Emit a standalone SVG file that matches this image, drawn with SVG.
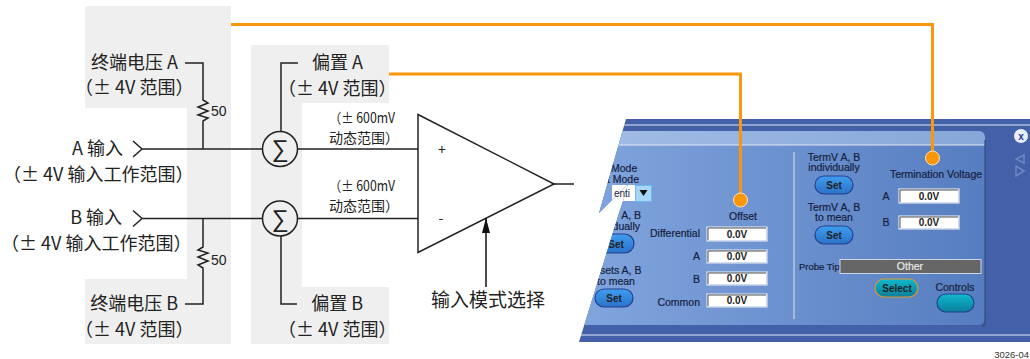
<svg xmlns="http://www.w3.org/2000/svg" width="1030" height="359" viewBox="0 0 1030 359">
<style>
text{font-family:"Noto Sans CJK SC","Liberation Sans",sans-serif;fill:#222}
.cn{font-size:18px}.cn2{font-size:14px}
.m{text-anchor:middle}.e{text-anchor:end}
.ui{font-family:"Liberation Sans",Arial,sans-serif;font-size:10.5px;fill:#16213f;stroke:#16213f;stroke-width:.2}
.w{fill:none;stroke:#222;stroke-width:1.5}
.o{fill:none;stroke:#f9960c;stroke-width:3}
.dot{fill:#f9960c;stroke:#fbe3b8;stroke-width:1}
.fld{fill:#fff;stroke:#c4d2e8;stroke-width:1.5}
.fi{fill:none;stroke:#555;stroke-width:1}
.v{font-family:"Liberation Sans",Arial,sans-serif;font-size:10px;font-weight:bold;fill:#222;text-anchor:middle}
.btn{fill:url(#bb);stroke:#24408f;stroke-width:1.2}
.tb{fill:url(#tb);stroke:#24408f;stroke-width:1.2}
</style>
<defs>
<linearGradient id="body" x1="0" x2="1" y1="0" y2="0"><stop offset="0" stop-color="#82a6de"/><stop offset="1" stop-color="#567dc0"/></linearGradient>
<linearGradient id="top" x1="0" x2="1" y1="0" y2="0"><stop offset="0" stop-color="#a3bde6"/><stop offset="1" stop-color="#87a7d8"/></linearGradient>
<linearGradient id="bb" x1="0" x2="0" y1="0" y2="1"><stop offset="0" stop-color="#3f9df0"/><stop offset="1" stop-color="#2a72c8"/></linearGradient>
<linearGradient id="tb" x1="0" x2="0" y1="0" y2="1"><stop offset="0" stop-color="#10b8cc"/><stop offset="1" stop-color="#0a7f9c"/></linearGradient>
<clipPath id="pc"><path d="M626 119H1030V342H579L619 213L624 198L628 184L599 213Z"/></clipPath>
<marker id="ah" viewBox="0 0 15 8" refX="15" refY="4" markerWidth="15" markerHeight="8" markerUnits="userSpaceOnUse" orient="auto"><path d="M0 0L15 4L0 8Z" fill="#111"/></marker>
</defs>
<g id="bg-term"><path d="M85 6H231V344H85V279H187V108H85Z" fill="#efefef"/></g>
<g id="bg-offset"><path d="M251 45H389V103H302V287H389V344H251Z" fill="#efefef"/></g>
<g id="panel">
<g clip-path="url(#pc)">
<rect x="570" y="119" width="460" height="223" fill="#4460a8"/>
<path d="M570 131H978Q985 131 985 138V318Q985 325 978 325H570Z" fill="url(#body)"/>
<path d="M570 131H978Q985 131 985 138V145H570Z" fill="url(#top)"/>
<path d="M570 125H1030M570 145H985M570 335H1030" stroke="#dfe8f6" stroke-width="1" fill="none"/>
<rect x="612" y="185" width="24" height="16" fill="#fff"/>
<rect x="594" y="234" width="40" height="19" rx="9.5" class="btn"/>
<text x="616" y="248" class="v">Set</text>
<text x="600" y="274" class="ui">sets A, B</text>
<text x="597" y="285" class="ui">to mean</text>
<text x="611" y="172" class="ui">Mode</text>
<text x="639" y="183" class="ui e">t Mode</text>
<text x="641" y="219" class="ui e">A, B</text>
<text x="640" y="230" class="ui e">dually</text>
</g>
<path d="M985 140V322Q985 325 982 327" stroke="#33497f" stroke-width="2" fill="none" opacity=".6"/>
<path d="M794 152V319" stroke="#dbe5f4" stroke-width="1"/>
<rect x="635.500" y="185.500" width="16" height="16" fill="#a9d6f7" stroke="#6ab8f0"/>
<path d="M639.500 190H647.500L643.500 196Z" fill="#111"/>
<text x="622" y="197" class="ui m" style="stroke:none;font-size:10px">enti</text>
<rect x="595" y="289" width="38" height="18" rx="9" class="btn"/>
<text x="614" y="302" class="v">Set</text>
<text x="743" y="220" class="ui m">Offset</text>
<text x="700" y="237" class="ui e">Differential</text>
<text x="700" y="260" class="ui e">A</text>
<text x="700" y="283" class="ui e">B</text>
<text x="700" y="306" class="ui e">Common</text>
<g id="offset-fields">
<rect x="707" y="227" width="60" height="14" class="fld"/><path d="M708 240V228H766" class="fi"/><text x="737" y="238" class="v">0.0V</text>
<rect x="707" y="250" width="60" height="13" class="fld"/><path d="M708 262V251H766" class="fi"/><text x="737" y="260" class="v">0.0V</text>
<rect x="707" y="272" width="60" height="13" class="fld"/><path d="M708 284V273H766" class="fi"/><text x="737" y="282" class="v">0.0V</text>
<rect x="707" y="294" width="60" height="13" class="fld"/><path d="M708 306V295H766" class="fi"/><text x="737" y="304" class="v">0.0V</text>
</g>
<text x="834" y="161" class="ui m">TermV A, B</text>
<text x="834" y="171" class="ui m">individually</text>
<rect x="815" y="176" width="38" height="18" rx="9" class="btn"/><text x="834" y="189" class="v">Set</text>
<text x="834" y="211" class="ui m">TermV A, B</text>
<text x="834" y="221" class="ui m">to mean</text>
<rect x="815" y="226" width="38" height="18" rx="9" class="btn"/><text x="834" y="239" class="v">Set</text>
<text x="936" y="178" class="ui m">Termination Voltage</text>
<text x="886" y="200" class="ui m">A</text>
<text x="886" y="226" class="ui m">B</text>
<rect x="899" y="189" width="60" height="14" class="fld"/><path d="M900 202V190H958" class="fi"/><text x="929" y="200" class="v">0.0V</text>
<rect x="899" y="216" width="60" height="13" class="fld"/><path d="M900 228V217H958" class="fi"/><text x="929" y="226" class="v">0.0V</text>
<text x="799" y="270" class="ui" style="font-size:9.500px">Probe Tip</text>
<rect x="840" y="259.500" width="141" height="14" fill="#666" stroke="#c9d4e6"/>
<text x="910" y="270" class="ui m" style="fill:#e8e8e8;stroke:#e8e8e8">Other</text>
<rect x="875" y="279" width="43" height="18" rx="9" class="tb" style="stroke:#e3962a"/>
<text x="897" y="292" class="v">Select</text>
<text x="955" y="291" class="ui m">Controls</text>
<rect x="937" y="294" width="37" height="18" rx="9" class="tb"/>
<circle cx="1021" cy="136" r="7.500" fill="#e8eef8" stroke="#3a5cb0"/>
<text x="1021" y="140" class="v" style="fill:#1c3a9a">x</text>
<path d="M1024 155L1016 159L1024 163Z M1016 166L1024 171L1016 176Z" fill="none" stroke="#6e86c2" stroke-width="1.500"/>
</g>
<g id="connectors">
<path class="o" d="M231 24.500H932.500V158"/>
<path class="o" d="M389 74H740.500V200"/>
<circle class="dot" cx="932.500" cy="158" r="7"/>
<circle class="dot" cx="740.500" cy="200" r="7"/>
<path class="w" d="M185 63H203V100L208 103L198 107L208 111L198 115L208 118L203 121V149"/>
<path class="w" d="M185 304H203V268L198 265L208 261L198 257L208 253L198 250L203 247V218.500"/>
<path class="w" d="M133 141L142 149L133 157M142 149H262M298 149H418"/>
<path class="w" d="M133 210.500L142 218.500L133 226.500M142 218.500H262M298 218.500H418"/>
<path class="w" d="M298 63H281V131M281 236V304H297"/>
<path class="w" d="M554 184H574"/>
</g>
<g id="sum-a"><circle cx="280" cy="149" r="17.500" fill="none" stroke="#222" stroke-width="1.500"/><text x="280" y="157" class="m" style="font-family:'Liberation Sans',sans-serif;font-size:24px">∑</text></g>
<g id="sum-b"><circle cx="280" cy="218.500" r="17.500" fill="none" stroke="#222" stroke-width="1.500"/><text x="280" y="226.500" class="m" style="font-family:'Liberation Sans',sans-serif;font-size:24px">∑</text></g>
<g id="amp"><path d="M418 114.500L554 184L418 252.500Z" fill="#fff" stroke="#222" stroke-width="1.500"/>
<text x="442" y="155" class="m" style="font-size:14px">+</text><text x="441" y="223" class="m" style="font-size:14px">-</text></g>
<g id="mode-arrow"><path d="M486 287V218" fill="none" stroke="#111" stroke-width="1.500" marker-end="url(#ah)"/></g>
<g id="term-a"><text x="178" y="69" class="cn e">终端电压 A</text><text x="75" y="94" class="cn">（± 4V 范围）</text><text x="211" y="116" style="font-size:14px;font-family:'Liberation Sans',sans-serif">50</text></g>
<g id="offset-a"><text x="363" y="69" class="cn e">偏置 A</text><text x="278" y="95" class="cn">（± 4V 范围）</text></g>
<g id="in-a"><text x="123" y="155" class="cn e">A 输入</text><text x="3" y="181" class="cn">（± 4V 输入工作范围）</text></g>
<g id="in-b"><text x="122" y="224" class="cn e">B 输入</text><text x="1" y="250" class="cn">（± 4V 输入工作范围）</text></g>
<g id="term-b"><text x="178" y="310" class="cn e">终端电压 B</text><text x="75" y="336" class="cn">（± 4V 范围）</text><text x="211" y="265" style="font-size:14px;font-family:'Liberation Sans',sans-serif">50</text></g>
<g id="offset-b"><text x="363" y="310" class="cn e">偏置 B</text><text x="278" y="336" class="cn">（± 4V 范围）</text></g>
<g id="range-a"><text x="329" y="123" class="cn2" textLength="66" lengthAdjust="spacingAndGlyphs">（± 600mV</text><text x="364" y="143" class="cn2 m">动态范围）</text></g>
<g id="range-b"><text x="329" y="191" class="cn2" textLength="66" lengthAdjust="spacingAndGlyphs">（± 600mV</text><text x="364" y="211" class="cn2 m">动态范围）</text></g>
<g id="mode"><text x="488" y="307" class="m" style="font-size:19px">输入模式选择</text></g>
<text x="1029" y="358" class="e" style="font-family:'Liberation Sans',sans-serif;font-size:9.500px;fill:#333">3026-04</text>
</svg>
